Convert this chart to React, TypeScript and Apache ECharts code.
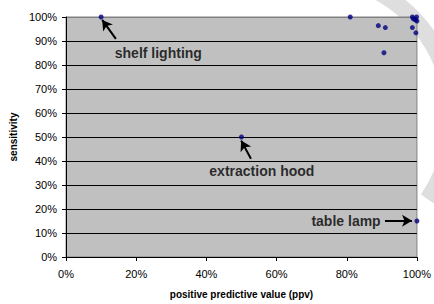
import React, { useEffect, useRef } from "react";
import * as echarts from "echarts";

// Data (percent units)
const ppv = [10, 50, 100, 81, 89, 91, 90.6, 98.7, 99.7, 98.7, 99.9, 99.6, 99.0, 100];
const sensitivity = [100, 50, 15, 100, 96.4, 95.6, 85.1, 95.6, 93.4, 100, 100, 98.8, 99.2, 98.3];

const xTicks = [0, 20, 40, 60, 80, 100];
const yTicks = [0, 10, 20, 30, 40, 50, 60, 70, 80, 90, 100];

const annotationNames = ["shelf lighting", "extraction hood", "table lamp"];
const annotationX = [26.3, 55.8, 79.8];
const annotationY = [85, 36, 15];

// arrows: tail -> head
const arrowTailX = [14.2, 52.7, 90.9];
const arrowTailY = [90.9, 40.9, 15.1];
const arrowHeadX = [10.3, 49.9, 98.6];
const arrowHeadY = [98.8, 48.5, 15.1];

const FONT = "'Liberation Sans', Arial, sans-serif";

export default function App() {
  const ref = useRef<HTMLDivElement>(null);
  useEffect(() => {
    if (!ref.current) return;
    const chart = echarts.init(ref.current, null, { renderer: "svg" });
    const splitColors = yTicks.map((v, i) => (i === yTicks.length - 1 ? "#808080" : "#000000"));
    chart.setOption({
      animation: false,
      backgroundColor: "#ffffff",
      textStyle: { fontFamily: FONT },
      graphic: {
        elements: [
          {
            type: "arc",
            z: -10,
            shape: { cx: 309, cy: 118, r: 144, startAngle: -1.4, endAngle: 0.6, clockwise: true },
            style: { stroke: "#dedede", lineWidth: 17, fill: "none" },
          },
        ],
      },
      grid: {
        left: 65,
        right: 14,
        top: 17,
        bottom: 45,
        show: true,
        backgroundColor: "#c0c0c0",
        borderColor: "#808080",
        borderWidth: 1,
      },
      xAxis: {
        type: "value",
        min: 0,
        max: 100,
        interval: 20,
        name: "positive predictive value (ppv)",
        nameLocation: "middle",
        nameGap: 32,
        nameTextStyle: { fontWeight: "bold", fontSize: 10, color: "#000", fontFamily: FONT },
        axisLine: { show: true, onZero: false, lineStyle: { color: "#000", width: 1 } },
        axisTick: { show: true, length: 4, lineStyle: { color: "#000" } },
        axisLabel: { formatter: "{value}%", fontSize: 11, color: "#000", margin: 11, fontFamily: FONT },
        splitLine: { show: false },
      },
      yAxis: {
        type: "value",
        min: 0,
        max: 100,
        interval: 10,
        name: "sensitivity",
        nameLocation: "middle",
        nameGap: 48,
        nameRotate: 90,
        nameTextStyle: { fontWeight: "bold", fontSize: 10, color: "#000", fontFamily: FONT },
        axisLine: { show: true, onZero: false, lineStyle: { color: "#000", width: 1 } },
        axisTick: { show: true, length: 4, lineStyle: { color: "#000" } },
        axisLabel: { formatter: "{value}%", fontSize: 11, color: "#000", margin: 9, fontFamily: FONT },
        splitLine: { show: true, lineStyle: { color: splitColors, width: 1 } },
      },
      series: [
        {
          type: "scatter",
          name: "devices",
          data: ppv.map((x, i) => [x, sensitivity[i]]),
          symbol: "circle",
          symbolSize: 5,
          itemStyle: { color: "#000080" },
          clip: false,
          z: 5,
          markLine: {
            silent: true,
            symbol: ["none", "arrow"],
            symbolSize: [9, 10],
            label: { show: false },
            lineStyle: { color: "#000", width: 2, type: "solid" },
            data: arrowTailX.map((x, i) => [
              { coord: [x, arrowTailY[i]] },
              { coord: [arrowHeadX[i], arrowHeadY[i]] },
            ]),
          },
        },
        {
          type: "scatter",
          name: "annotations",
          silent: true,
          symbolSize: 0,
          data: annotationNames.map((n, i) => ({ name: n, value: [annotationX[i], annotationY[i]] })),
          label: {
            show: true,
            position: "inside",
            formatter: (p: any) => p.name,
            fontSize: 14,
            fontWeight: "bold",
            color: "#000",
            fontFamily: FONT,
          },
          z: 6,
        },
      ],
    });
    return () => chart.dispose();
  }, []);
  return <div ref={ref} style={{ position: "fixed", left: 0, top: 0, width: 434, height: 304 }} />;
}
